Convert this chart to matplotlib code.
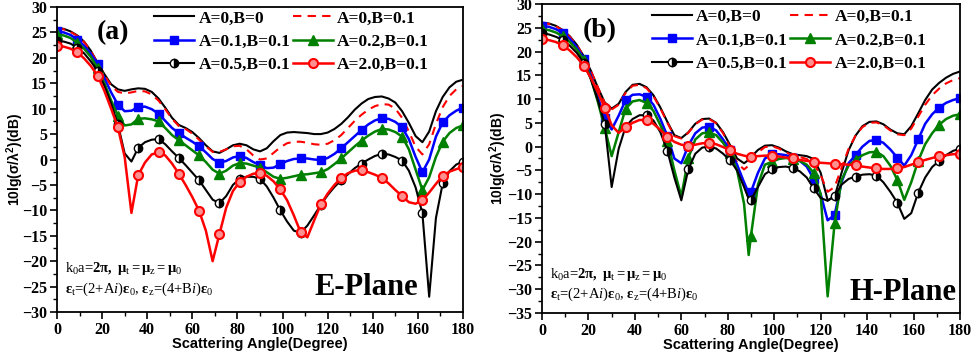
import numpy as np
import matplotlib
matplotlib.use("Agg")
import matplotlib.pyplot as plt
from matplotlib.ticker import MultipleLocator

plt.rcParams['mathtext.fontset'] = 'custom'
plt.rcParams['mathtext.rm'] = 'Liberation Serif'
plt.rcParams['mathtext.it'] = 'Liberation Serif:italic'
plt.rcParams['mathtext.bf'] = 'Liberation Serif:bold'

# ---------------- data ----------------
labels = ["A=0,B=0", "A=0,B=0.1", "A=0.1,B=0.1", "A=0.2,B=0.1", "A=0.5,B=0.1", "A=2.0,B=0.1"]

angle_E = np.arange(0, 181, 3)
E_A0B0 = [25.9, 25.7, 25.2, 24.4, 23.2, 21.4, 19.0, 16.8, 14.8, 13.8,
          13.5, 13.8, 14.0, 13.9, 13.3, 12.0, 10.2, 8.2, 6.8, 6.2,
          5.4, 4.2, 2.8, 1.6, 1.3, 2.0, 2.8, 3.1, 2.8, 2.0,
          1.6, 2.2, 3.6, 4.8, 5.3, 5.4, 5.3, 5.2, 5.0, 5.0,
          5.3, 6.0, 7.0, 8.3, 9.8, 11.0, 11.9, 12.3, 12.4, 12.0,
          11.2, 9.5, 7.2, 4.6, 3.4, 5.5, 9.5, 12.3, 14.2, 15.3,
          15.7]
E_A0B01 = [25.8, 25.6, 25.1, 24.3, 23.1, 21.3, 19.0, 16.6, 14.5, 13.3,
           13.0, 13.2, 13.5, 13.4, 12.8, 11.6, 9.9, 8.0, 6.6, 6.0,
           5.1, 3.9, 2.6, 1.5, 1.5, 2.0, 2.6, 2.7, 2.0, 0.8,
           0.0, 0.2, 1.3, 2.4, 3.2, 3.5, 3.5, 3.3, 3.0, 2.9,
           3.1, 3.8, 4.8, 6.2, 7.6, 8.8, 9.8, 10.5, 10.9, 10.8,
           10.0, 8.2, 5.5, 2.5, 1.0, 3.0, 7.0, 10.3, 12.5, 13.8,
           14.5]
E_A01B01 = [25.2, 25.0, 24.5, 23.6, 22.4, 20.8, 18.8, 16.0, 13.2, 10.8,
            9.5, 9.6, 10.3, 10.4, 9.9, 9.0, 7.6, 6.2, 5.2, 4.3,
            3.5, 2.6, 1.4, 0.1, -0.6, -0.3, 0.4, 0.7, 0.3, -0.5,
            -1.1, -1.7, -1.6, -0.9, -0.3, 0.1, 0.2, 0.2, 0.0, -0.1,
            0.3, 1.1, 2.2, 3.4, 4.6, 5.8, 6.9, 7.7, 8.1, 8.0,
            7.4, 6.3, 4.0, 0.5, -2.5, 0.0, 4.5, 7.3, 8.7, 9.6,
            10.2]
E_A02B01 = [24.6, 24.4, 23.9, 23.0, 21.8, 20.2, 18.0, 15.0, 11.6, 8.6,
            6.7, 6.9, 8.0, 8.1, 7.9, 7.5, 6.2, 4.8, 3.8, 2.8,
            1.8, 0.8, -0.5, -2.0, -2.8, -2.2, -1.2, -0.7, -0.8, -1.2,
            -1.6, -2.5, -3.4, -3.8, -3.6, -3.3, -3.0, -2.9, -2.7, -2.5,
            -1.9, -0.9, 0.2, 1.4, 2.6, 3.7, 4.7, 5.5, 6.0, 5.9,
            5.4, 4.5, 2.0, -2.0, -6.0, -3.5, 0.5, 3.5, 5.2, 6.2,
            6.7]
E_A05B01 = [23.4, 23.2, 22.8, 22.0, 20.9, 19.3, 17.4, 14.5, 11.0, 6.9,
            1.2, -0.4, 2.3, 3.4, 3.9, 4.0, 3.0, 1.6, 0.3, -1.1,
            -2.6, -4.1, -6.0, -7.9, -8.6, -7.2, -5.0, -3.8, -3.4, -3.4,
            -3.8, -5.3, -7.5, -10.0, -12.2, -14.0, -14.4, -13.0, -11.0, -8.9,
            -7.0, -5.4, -4.1, -2.9, -1.7, -0.8, 0.0, 0.7, 1.1, 1.0,
            0.5, -0.2, -2.2, -5.5, -10.6, -27.0, -11.5, -4.7, -2.3, -1.0,
            -0.4]
E_A20B01 = [22.4, 22.2, 21.8, 21.1, 19.9, 18.4, 16.5, 13.5, 10.0, 6.3,
            0.5, -10.5, -3.1, -0.6, 1.0, 1.4, 0.8, -0.8, -2.8, -5.0,
            -7.4, -10.1, -14.0, -20.0, -14.7, -9.5, -6.2, -4.4, -3.4, -2.8,
            -2.7, -3.2, -4.3, -5.9, -8.0, -11.0, -14.3, -15.3, -12.0, -8.8,
            -6.7, -5.0, -3.6, -2.7, -2.2, -2.1, -2.5, -3.0, -3.6, -4.7,
            -6.0, -7.2, -8.4, -8.7, -8.0, -6.5, -4.8, -3.2, -2.4, -1.9,
            -1.5]

angle_H = np.array(sorted(list(range(0, 181, 3)) + [89]))
H_A0B0 = [26.1, 25.9, 25.4, 24.5, 23.2, 21.4, 19.0, 16.0, 12.5, 9.3,
          8.0, 9.0, 11.5, 13.0, 13.2, 12.5, 10.8, 8.2, 5.2, 2.4,
          1.8, 3.0, 4.8, 5.8, 5.9, 5.0, 3.0, 0.3, -2.5, -3.5,
          -2.8,
          -2.2, -0.7, 0.2, 0.3, -0.2, -1.0, -1.6, -1.8, -2.0, -2.6,
          -5.5, -11.3, -10.5, -5.5, -0.8, 2.3, 4.3, 5.2, 5.3, 4.7,
          3.6, 2.8, 2.6, 4.3, 7.0, 9.8, 12.0, 13.4, 14.5, 15.3,
          15.8]
H_A0B01 = [26.0, 25.8, 25.3, 24.4, 23.1, 21.3, 19.0, 16.0, 12.5, 9.2,
           7.8, 8.8, 11.3, 12.8, 13.0, 12.3, 10.6, 8.0, 5.0, 2.2,
           1.7, 2.9, 4.7, 5.7, 5.8, 4.9, 2.8, -0.2, -3.4, -4.8,
           -4.0,
           -3.2, -1.2, -0.1, 0.1, -0.4, -1.2, -1.9, -2.2, -2.6, -3.6,
           -6.0, -9.5, -8.5, -4.5, -0.5, 2.3, 4.1, 5.0, 5.1, 4.5,
           3.4, 2.6, 2.4, 3.8, 6.3, 8.8, 10.8, 12.2, 13.3, 14.0,
           14.4]
H_A01B01 = [25.4, 25.2, 24.7, 23.9, 22.7, 20.9, 18.5, 15.0, 10.5, 6.0,
            3.6, 6.5, 9.8, 10.9, 11.0, 10.5, 8.8, 5.8, 2.2, -2.5,
            -3.5, 0.2, 2.8, 4.0, 4.2, 3.4, 1.5, -0.8, -3.8, -7.5,
            -9.8,
            -9.5, -5.5, -2.5, -1.6, -1.6, -1.8, -2.4, -3.0, -4.2, -6.8,
            -10.0, -15.5, -14.4, -7.5, -3.5, -1.8, 0.0, 1.2, 1.4, 0.8,
            -0.6, -2.3, -4.0, -1.8, 1.5, 4.8, 6.8, 8.2, 9.2, 9.8,
            10.2]
H_A02B01 = [24.7, 24.5, 24.0, 23.2, 22.0, 20.4, 18.2, 14.5, 9.5, 4.0,
            -2.0, 3.0, 8.0, 9.5, 9.8, 9.2, 7.5, 4.5, 1.2, -5.0,
            -10.5, -2.4, 1.5, 2.8, 3.0, 2.4, 0.8, -1.4, -5.0, -12.0,
            -22.8,
            -18.7, -8.0, -3.8, -3.2, -2.6, -2.4, -2.6, -3.0, -3.8, -5.5,
            -10.0, -31.5, -16.1, -7.0, -4.0, -2.8, -1.8, -1.2, -1.1, -2.0,
            -4.0, -7.0, -11.2, -7.5, -3.0, 0.5, 2.8, 4.6, 5.8, 6.5,
            6.8]
H_A05B01 = [23.8, 23.6, 23.1, 22.4, 21.2, 19.7, 17.6, 14.2, 9.8, 4.8,
            -8.5, -0.5, 4.2, 5.8, 6.6, 6.6, 5.5, 3.0, -0.9, -6.5,
            -11.3, -4.8, -1.5, -0.2, 0.0, -0.4, -1.5, -2.9, -5.0, -8.5,
            -11.0,
            -11.2, -8.5, -5.8, -4.8, -4.3, -4.2, -4.5, -5.2, -6.5, -8.8,
            -10.8, -11.4, -10.4, -8.0, -6.8, -6.3, -5.9, -5.8, -6.1, -7.5,
            -9.5, -11.8, -15.2, -14.0, -9.7, -6.5, -4.3, -3.0, -1.8, -0.9,
            -0.4]
H_A20B01 = [22.6, 22.4, 22.0, 21.3, 20.2, 18.8, 17.0, 14.5, 11.5, 8.2,
            4.5, 2.9, 4.1, 5.0, 5.6, 5.6, 4.8, 3.5, 2.1, 1.0,
            0.4, 0.2, 0.4, 0.7, 0.8, 0.5, -0.1, -0.8, -1.5, -1.9,
            -2.1,
            -2.1, -2.0, -1.9, -1.9, -2.1, -2.3, -2.5, -2.8, -3.0, -3.2,
            -3.4, -3.5, -3.6, -3.7, -3.8, -3.9, -4.2, -4.4, -4.6, -4.7,
            -4.7, -4.6, -4.3, -3.8, -3.3, -2.8, -2.4, -2.0, -1.8, -1.6,
            -1.5]

E_series = [E_A0B0, E_A0B01, E_A01B01, E_A02B01, E_A05B01, E_A20B01]
H_series = [H_A0B0, H_A0B01, H_A01B01, H_A02B01, H_A05B01, H_A20B01]

styles = [
    dict(color='black', lw=1.5, ls='-', marker=None),
    dict(color='red', lw=1.5, ls=(0, (4, 3)), marker=None),
    dict(color='#0000ff', lw=1.8, ls='-', marker='s', ms=6, mfc='#0000ff', mec='#0000ff'),
    dict(color='#008000', lw=1.8, ls='-', marker='^', ms=6.5, mfc='#008000', mec='#008000'),
    dict(color='black', lw=1.5, ls='-', marker='o', ms=6, mfc='black', mec='black',
         fillstyle='right', mfcalt='white'),
    dict(color='red', lw=1.8, ls='-', marker='o', ms=6.5, mfc='#ff9090', mec='red', mew=1.5),
]

SERIF = 'Liberation Serif'
SANS = 'Liberation Sans'

fig = plt.figure(figsize=(9.8, 3.64), dpi=100)
axE = fig.add_axes([57/980, (364-312)/364, 406/980, 305/364])
axH = fig.add_axes([542/980, (364-313)/364, 418/980, 309/364])


def draw(ax, x, series, ylim, panel, plane, txt_y, plane_pos, leg_anchor, ylabel_x):
    idx = [i for i, v in enumerate(x) if v % 9 == 0]
    handles = []
    for y, st, lab in zip(series, styles, labels):
        kw = dict(color=st['color'], lw=st['lw'], ls=st['ls'], label=lab)
        if st['marker']:
            kw.update(marker=st['marker'], ms=st['ms'], mfc=st['mfc'], mec=st['mec'],
                      markevery=idx, mew=st.get('mew', 1.0))
            if 'fillstyle' in st:
                kw.update(fillstyle=st['fillstyle'], markerfacecoloralt=st['mfcalt'])
        h, = ax.plot(x, y, **kw)
        handles.append(h)
    ax.set_xlim(0, 180)
    ax.set_ylim(*ylim)
    ax.xaxis.set_major_locator(MultipleLocator(20))
    ax.xaxis.set_minor_locator(MultipleLocator(10))
    ax.yaxis.set_major_locator(MultipleLocator(5))
    ax.yaxis.set_minor_locator(MultipleLocator(2.5))
    ax.tick_params(which='major', direction='out', length=5, width=1.2, top=False, right=False, pad=2)
    ax.tick_params(which='minor', direction='out', length=3, width=1.0, top=False, right=False)
    for lab in ax.get_xticklabels() + ax.get_yticklabels():
        lab.set_fontfamily(SERIF)
        lab.set_fontweight('bold')
        lab.set_fontsize(11.5)
    for s in ax.spines.values():
        s.set_linewidth(1.3)
    ax.set_xlabel('Scattering Angle(Degree)', fontfamily=SANS, fontweight='bold', fontsize=10.5)
    ax.xaxis.set_label_coords(0.5, -0.082)
    ax.set_ylabel(r'10lg($\mathregular{\sigma/\lambda^2}$)(dB)', fontfamily=SANS,
                  fontweight='bold', fontsize=10)
    ax.yaxis.set_label_coords(ylabel_x, 0.5)
    ax.text(25, txt_y[0], panel, fontfamily=SERIF, fontweight='bold', fontsize=20,
            ha='center', va='center')
    ax.text(3.5, txt_y[1],
            r"k$_\mathrm{0}$a=$\mathbf{2\pi,}$ $\mathbf{\mu}_\mathrm{t}$$\mathbf{=\mu}_\mathrm{z}$$\mathbf{=\mu}_\mathrm{0}$",
            fontfamily=SERIF, fontsize=10.5, ha='left', va='baseline')
    ax.text(3.5, txt_y[2],
            r"$\mathbf{\varepsilon}_\mathrm{t}$=(2+A$\mathit{i}$)$\mathbf{\varepsilon}_\mathrm{0}$, $\mathbf{\varepsilon}_\mathrm{z}$=(4+B$\mathit{i}$)$\mathbf{\varepsilon}_\mathrm{0}$",
            fontfamily=SERIF, fontsize=10.5, ha='left', va='baseline')
    ax.text(plane_pos[0], plane_pos[1], plane, fontfamily=SERIF, fontweight='bold',
            fontsize=22, ha='right', va='baseline')
    order = [0, 2, 4, 1, 3, 5]
    ax.legend([handles[i] for i in order], [labels[i] for i in order],
              loc='upper left', bbox_to_anchor=leg_anchor, ncol=2, frameon=False,
              prop=dict(family=SERIF, weight='bold', size=12.5), handlelength=2.3,
              handletextpad=0.25, columnspacing=0.15, labelspacing=0.42,
              borderaxespad=0, borderpad=0.1)


draw(axE, angle_E, E_series, (-30, 30), '(a)', 'E-Plane', (25.0, -22.1, -26.3),
     (160, -26.7), (0.235, 0.995), -0.076)
draw(axH, angle_H, H_series, (-35, 30), '(b)', 'H-Plane', (24.5, -27.6, -31.8),
     (178.5, -32.3), (0.258, 0.99), -0.079)

fig.savefig('out.png', dpi=100)
